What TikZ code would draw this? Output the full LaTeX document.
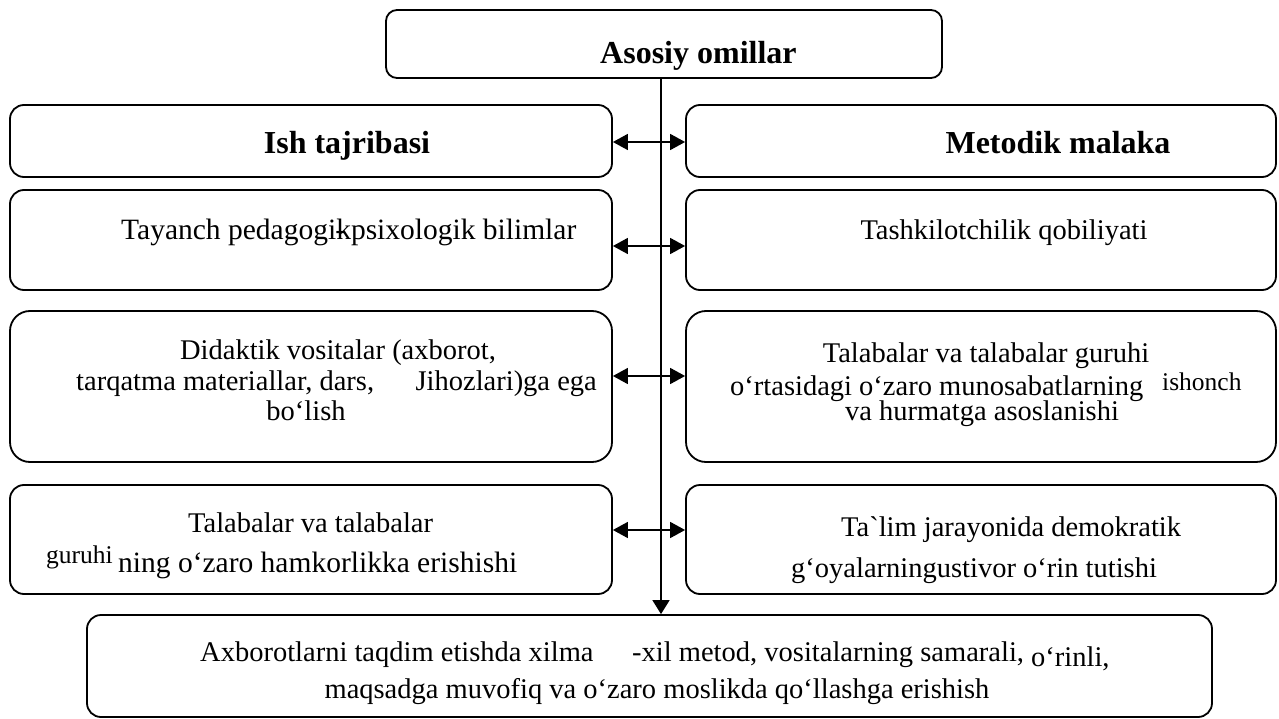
\documentclass[tikz,border=0pt]{standalone}
\usepackage{fontspec}
\setmainfont{Liberation Serif}[Ligatures=TeXOff]
\usetikzlibrary{arrows.meta}

\tikzset{
  box/.style={draw, line width=1.8pt, rounded corners=14pt, inner sep=0pt},
  txt/.style={inner sep=0pt, font=\fontsize{28.5}{34}\selectfont},
  wide/.style={inner sep=0pt, font=\fontsize{29.5}{35}\selectfont},
  head/.style={inner sep=0pt, font=\fontsize{32}{38}\selectfont\bfseries},
  small/.style={inner sep=0pt, font=\fontsize{25.5}{30}\selectfont},
  both/.style={line width=1.6pt, {Triangle[length=15pt,width=16pt]}-{Triangle[length=15pt,width=16pt]}},
  down/.style={line width=1.6pt, -{Triangle[length=14pt,width=17pt]}}
}

\begin{document}
\begin{tikzpicture}[x=1pt, y=-1pt]
\useasboundingbox (0,0) rectangle (1279,719);

% boxes
\node[box, rounded corners=11pt, minimum width=556pt, minimum height=68pt] (top) at (664,44) {};
\node[box, minimum width=602pt, minimum height=72pt]  (L1) at (311,141) {};
\node[box, minimum width=590pt, minimum height=72pt]  (R1) at (981,141) {};
\node[box, minimum width=602pt, minimum height=100pt] (L2) at (311,240) {};
\node[box, minimum width=590pt, minimum height=100pt] (R2) at (981,240) {};
\node[box, rounded corners=20pt, minimum width=602pt, minimum height=151pt] (L3) at (311,386.5) {};
\node[box, rounded corners=20pt, minimum width=590pt, minimum height=151pt] (R3) at (981,386.5) {};
\node[box, minimum width=602pt, minimum height=109pt] (L4) at (311,539.5) {};
\node[box, minimum width=590pt, minimum height=109pt] (R4) at (981,539.5) {};
\node[box, minimum width=1125pt, minimum height=102pt] (bot) at (649.5,666) {};

% central spine and the paired links
\draw[down] ([xshift=-3pt]top.south) -- ([xshift=-3pt]top.south |- bot.north);
\draw[both] ([yshift=-1pt]L1.east) -- ([yshift=-1pt]R1.west);
\draw[both] ([yshift=-6pt]L2.east) -- ([yshift=-6pt]R2.west);
\draw[both] ([yshift=10.5pt]L3.east) -- ([yshift=10.5pt]R3.west);
\draw[both] ([yshift=9.5pt]L4.east) -- ([yshift=9.5pt]R4.west);

% texts
\node[head, anchor=base west] (t0) at (600,64) {Asosiy omillar};
\node[head, anchor=base] (t1l) at (347,154) {Ish tajribasi};
\node[head, anchor=base] (t1r) at (1058,154) {Metodik malaka};

\node[wide, anchor=base west] (t2l) at (121,240) {Tayanch pedagogi\rlap{\kern-1pt-}kpsixologik bilimlar};
\node[txt, anchor=base] (t2r) at (1004,240) {Tashkilotchilik qobiliyati};

\node[txt, anchor=base] (t3la) at (338,359) {Didaktik vositalar (axborot,};
\node[txt, anchor=base west] (t3lb) at (76,390) {tarqatma materiallar, dars,};
\node[txt, anchor=base east] (t3lc) at (597,390) {Jihozlari)ga ega};
\node[txt, anchor=base] (t3ld) at (306,420) {bo‘lish};

\node[txt, anchor=base] (t3ra) at (986,362) {Talabalar va talabalar guruhi};
\node[txt, anchor=base west] (t3rb) at (730,395) {o‘rtasidagi o‘zaro munosabatlarning};
\node[small, anchor=base west] (t3rc) at (1162,390) {ishonch};
\node[txt, anchor=base] (t3rd) at (982,420) {va hurmatga asoslanishi};

\node[txt, anchor=base west] (t4la) at (188,532) {Talabalar va talabalar};
\node[small, anchor=base west] (t4lb) at (46,563) {guruhi};
\node[wide, anchor=base west] (t4lc) at (118,572) {ning o‘zaro hamkorlikka erishishi};

\node[txt, anchor=base west] (t4ra) at (841,536) {Ta`lim jarayonida demokratik};
\node[txt, anchor=base west] (t4rb) at (791,577) {g‘oyalarningustivor o‘rin tutishi};

\node[txt, anchor=base west] (t5a) at (200,661) {Axborotlarni taqdim etishda xilma};
\node[txt, anchor=base west] (t5b) at (632,661) {-xil metod, vositalarning samarali,};
\node[txt, anchor=base west] (t5c) at (1031,666) {o‘rinli,};
\node[txt, anchor=base] (t5d) at (657,698) {maqsadga muvofiq va o‘zaro moslikda qo‘llashga erishish};
\end{tikzpicture}
\end{document}
